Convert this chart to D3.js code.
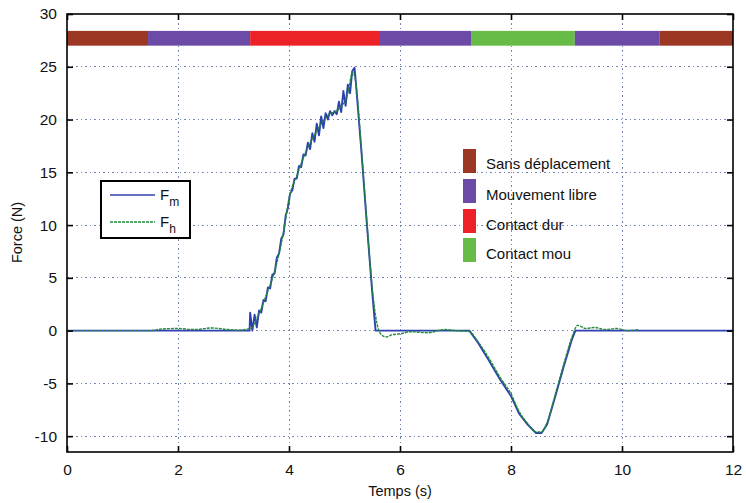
<!DOCTYPE html>
<meta charset="utf-8">
<style>
  body { margin: 0; background: #fff; }
  svg text { font-family: "Liberation Sans", Arial, sans-serif; fill: #111; }
  .grid line { stroke: #7489b0; stroke-width: 1; stroke-dasharray: 1.5,3; shape-rendering: crispEdges; }
</style>
<body>
<div id="chart"></div>
<script src="https://d3js.org/d3.v7.min.js"></script>
<script>
  // phases shown on the coloured strip
  const phaseNames = ["Sans déplacement", "Mouvement libre", "Contact dur", "Contact mou"];
  const phaseColors = ["#9b3722", "#6b4ba6", "#ec2226", "#67bb47"];
  const stripStart = [0, 1.46, 3.3, 5.64, 7.28, 9.15, 10.68];
  const stripEnd = [1.46, 3.3, 5.64, 7.28, 9.15, 10.68, 12];
  const stripPhase = [0, 1, 2, 1, 3, 1, 0];

  const xTicks = [0, 2, 4, 6, 8, 10, 12];
  const yTicks = [-10, -5, 0, 5, 10, 15, 20, 25, 30];

  // F_m (master force)
  const fmT = [0, 3.29, 3.30, 3.34, 3.38, 3.42, 3.46, 3.50, 3.54, 3.58, 3.62, 3.66, 3.70, 3.74, 3.78,
    3.82, 3.86, 3.90, 3.94, 3.98, 4.02, 4.06, 4.10, 4.14, 4.18, 4.22, 4.26, 4.30, 4.34, 4.38,
    4.42, 4.46, 4.50, 4.54, 4.58, 4.62, 4.66, 4.70, 4.74, 4.78, 4.82, 4.86, 4.90, 4.94, 4.98,
    5.02, 5.06, 5.10, 5.14, 5.18, 5.20, 5.30, 5.40, 5.50, 5.56, 7.25, 7.40, 7.60, 7.80, 8.00,
    8.15, 8.30, 8.45, 8.55, 8.65, 8.80, 8.95, 9.10, 9.16, 12];
  const fmV = [0, 0, 1.7, 0.0, 1.5, 0.3, 1.9, 1.7, 2.9, 2.8, 4.1, 4.0, 5.3, 5.4, 6.9,
    7.3, 8.7, 9.1, 10.9, 11.6, 13.0, 13.3, 14.4, 14.4, 15.6, 15.5, 16.7, 16.6, 17.8, 17.2,
    18.7, 17.9, 19.6, 18.5, 20.3, 19.2, 20.6, 20.0, 20.8, 20.4, 20.8, 20.5, 21.7, 20.7, 22.7,
    21.3, 23.3, 22.5, 24.6, 24.9, 23.8, 17.3, 10.3, 3.6, 0.0, 0.0, -1.1, -2.8, -4.6, -6.2,
    -7.9, -8.9, -9.7, -9.7, -8.9, -6.2, -3.4, -0.8, 0.0, 0.0];

  // F_h (human force)
  const fhT = [0, 1.5, 1.7, 2.0, 2.3, 2.6, 2.9, 3.1, 3.3, 3.45, 3.6, 3.75, 3.9, 4.0, 4.15, 4.3,
    4.5, 4.7, 4.9, 5.05, 5.15, 5.2, 5.3, 5.4, 5.5, 5.58, 5.65, 5.75, 5.85, 6.0, 6.2, 6.5, 6.8,
    7.0, 7.25, 7.4, 7.6, 7.8, 8.0, 8.15, 8.3, 8.45, 8.55, 8.65, 8.8, 8.95, 9.1, 9.2, 9.35, 9.5,
    9.7, 9.9, 10.1, 10.3];
  const fhV = [0, 0, 0.15, 0.2, 0.1, 0.25, 0.1, 0.05, 0.2, 1.5, 3.5, 5.8, 9.3, 12.5, 14.8, 16.9,
    18.9, 20.4, 21.0, 22.3, 24.5, 23.6, 17.5, 10.5, 4.0, 0.8, -0.3, -0.6, -0.4, -0.3, -0.1, -0.2, 0.1,
    0, -0.1, -1.0, -2.6, -4.4, -6.0, -7.7, -8.8, -9.6, -9.6, -8.7, -6.0, -3.2, -0.6, 0.5, 0.2, 0.3,
    0.1, 0.2, 0.0, 0.1];

  const W = 746, H = 503;
  const m = {left: 67, right: 13, top: 14, bottom: 51};

  const svg = d3.select("#chart").append("svg").attr("width", W).attr("height", H);

  const x = d3.scaleLinear().domain([0, 12]).range([m.left, W - m.right]);
  const y = d3.scaleLinear().domain([-11.5, 30]).range([H - m.bottom, m.top]);

  // dotted grid
  const grid = svg.append("g").attr("class", "grid");
  grid.selectAll("line.gx").data(xTicks.slice(1, -1)).join("line").attr("class", "gx")
    .attr("x1", d => x(d)).attr("x2", d => x(d))
    .attr("y1", y(-11.5)).attr("y2", y(30));
  grid.selectAll("line.gy").data(yTicks.slice(0, -1)).join("line").attr("class", "gy")
    .attr("y1", d => y(d)).attr("y2", d => y(d))
    .attr("x1", x(0)).attr("x2", x(12));

  // phase strip
  const strip = svg.append("g");
  strip.selectAll("rect").data(stripStart).join("rect")
    .attr("x", (d, i) => x(d))
    .attr("width", (d, i) => x(stripEnd[i]) - x(d))
    .attr("y", y(28.4)).attr("height", y(27.0) - y(28.4))
    .attr("fill", (d, i) => phaseColors[stripPhase[i]]);

  // curves
  const line = d3.line().x(d => x(d[0])).y(d => y(d[1]));
  svg.append("path").datum(fmT.map((t, i) => [t, fmV[i]]))
    .attr("d", line).attr("fill", "none").attr("stroke", "#2f40b0").attr("stroke-width", 1.9)
    .attr("stroke-linejoin", "round");
  svg.append("path").datum(fhT.map((t, i) => [t, fhV[i]]))
    .attr("d", d3.line().curve(d3.curveMonotoneX).x(d => x(d[0])).y(d => y(d[1])))
    .attr("fill", "none").attr("stroke", "#1f8a3a").attr("stroke-width", 1.4)
    .attr("stroke-dasharray", "3,1");

  // axes (MATLAB style, ticks inside on all sides)
  svg.append("rect").attr("x", x(0)).attr("y", y(30))
    .attr("width", x(12) - x(0)).attr("height", y(-11.5) - y(30))
    .attr("fill", "none").attr("stroke", "#000").attr("stroke-width", 1.6);
  const fmt = d => String(d);
  const axBottom = d3.axisBottom(x).tickValues(xTicks).tickSize(-6).tickPadding(12).tickFormat(fmt);
  const axTop = d3.axisTop(x).tickValues(xTicks).tickSize(-6).tickFormat("");
  const axLeft = d3.axisLeft(y).tickValues(yTicks).tickSize(-6).tickPadding(10).tickFormat(fmt);
  const axRight = d3.axisRight(y).tickValues(yTicks).tickSize(-6).tickFormat("");
  [[axBottom, `translate(0,${y(-11.5)})`], [axTop, `translate(0,${y(30)})`],
   [axLeft, `translate(${x(0)},0)`], [axRight, `translate(${x(12)},0)`]].forEach(([a, tr]) => {
    const g = svg.append("g").attr("transform", tr).call(a);
    g.select(".domain").remove();
    g.selectAll(".tick line").attr("stroke", "#000").attr("stroke-width", 1.6);
    g.selectAll("text").attr("font-size", 15.5).attr("fill", "#111");
  });

  svg.append("text").attr("x", x(6)).attr("y", 496).attr("text-anchor", "middle")
    .attr("font-size", 14.5).text("Temps (s)");
  svg.append("text").attr("transform", `translate(22,${y(9.3)}) rotate(-90)`)
    .attr("text-anchor", "middle").attr("font-size", 14.5).text("Force (N)");

  // legend for the curves
  const lg = svg.append("g");
  lg.append("rect").attr("x", 101).attr("y", 181).attr("width", 89).attr("height", 57)
    .attr("fill", "#fff").attr("stroke", "#000").attr("stroke-width", 2);
  const series = [{sub: "m", color: "#2f40b0", dash: null, yy: 195},
                  {sub: "h", color: "#1f8a3a", dash: "3,1", yy: 222}];
  series.forEach(s => {
    lg.append("line").attr("x1", 110).attr("x2", 155).attr("y1", s.yy).attr("y2", s.yy)
      .attr("stroke", s.color).attr("stroke-width", 1.5).attr("stroke-dasharray", s.dash);
    const t = lg.append("text").attr("x", 160).attr("y", s.yy + 5).attr("font-size", 15);
    t.append("tspan").text("F");
    t.append("tspan").attr("font-size", 12).attr("dy", 6).text(s.sub);
  });

  // legend for the phases
  const pg = svg.append("g");
  const rowY = [149, 179, 209, 238];
  const textY = [169, 200, 230, 259];
  phaseNames.forEach((name, i) => {
    pg.append("rect").attr("x", 463).attr("y", rowY[i]).attr("width", 13).attr("height", 24)
      .attr("fill", phaseColors[i]);
    pg.append("text").attr("x", 486).attr("y", textY[i]).attr("font-size", 15).text(name);
  });
</script>
</body>
</html>
